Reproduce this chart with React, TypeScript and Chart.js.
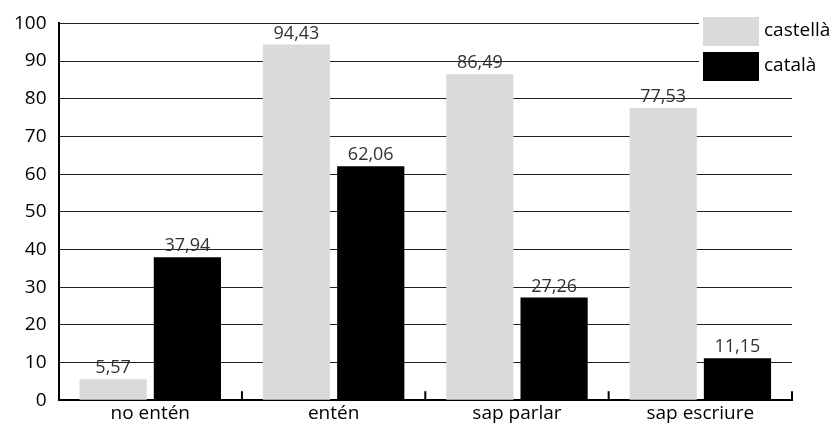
import React, { useEffect, useRef } from "react";
import { Chart, registerables } from "chart.js";

Chart.register(...registerables);

const categories = ["no entén", "entén", "sap parlar", "sap escriure"];
const seriesNames = ["castellà", "català"];
const castellaValues = [5.57, 94.43, 86.49, 77.53];
const catalaValues = [37.94, 62.06, 27.26, 11.15];
const seriesColors = ["#dadada", "#000000"];
const yTicks = [0, 10, 20, 30, 40, 50, 60, 70, 80, 90, 100];

const FONT = "'Open Sans', 'Noto Sans', sans-serif";

const valueLabels = {
  id: "valueLabels",
  afterDatasetsDraw(chart: any) {
    const ctx = chart.ctx;
    ctx.save();
    ctx.font = `18px ${FONT}`;
    ctx.fillStyle = "#333";
    ctx.textAlign = "center";
    ctx.textBaseline = "bottom";
    chart.data.datasets.forEach((ds: any, i: number) => {
      const meta = chart.getDatasetMeta(i);
      meta.data.forEach((el: any, j: number) => {
        const txt = String(ds.data[j].toFixed(2)).replace(".", ",");
        ctx.fillText(txt, el.x, el.y - 2);
      });
    });
    ctx.restore();
  },
};

const innerTicks = {
  id: "innerTicks",
  afterDraw(chart: any) {
    const ctx = chart.ctx;
    const x = chart.scales.x;
    const bottom = chart.chartArea.bottom;
    ctx.save();
    ctx.strokeStyle = "#000";
    ctx.lineWidth = 2;
    for (let i = 0; i < categories.length; i++) {
      const px = x.getPixelForValue(i) + (x.getPixelForValue(1) - x.getPixelForValue(0)) / 2;
      ctx.beginPath();
      ctx.moveTo(px, bottom);
      ctx.lineTo(px, bottom - 9);
      ctx.stroke();
    }
    ctx.restore();
  },
};

const boxLegend = {
  id: "boxLegend",
  afterDraw(chart: any) {
    const ctx = chart.ctx;
    ctx.save();
    ctx.fillStyle = "#fff";
    ctx.fillRect(699, 12, 140, 72);
    seriesNames.forEach((name, i) => {
      const y = 17 + i * 35;
      ctx.fillStyle = seriesColors[i];
      ctx.fillRect(703, y, 56, 29);
      ctx.fillStyle = "#000";
      ctx.font = `19px ${FONT}`;
      ctx.textAlign = "left";
      ctx.textBaseline = "middle";
      ctx.fillText(name, 764, y + 14);
    });
    ctx.restore();
  },
};

export default function App() {
  const ref = useRef<HTMLCanvasElement>(null);
  useEffect(() => {
    document.body.style.margin = "0";
    const chart = new Chart(ref.current!, {
      type: "bar",
      data: {
        labels: categories,
        datasets: [
          { label: seriesNames[0], data: castellaValues, backgroundColor: seriesColors[0] },
          { label: seriesNames[1], data: catalaValues, backgroundColor: seriesColors[1] },
        ],
      },
      options: {
        animation: false,
        responsive: false,
        maintainAspectRatio: false,
        categoryPercentage: 0.81,
        barPercentage: 0.905,
        layout: { padding: { top: 8, right: 41, left: 2, bottom: 1 } },
        plugins: { legend: { display: false }, tooltip: { enabled: false } },
        scales: {
          x: {
            grid: { display: false, drawTicks: false },
            border: { color: "#000", width: 2 },
            ticks: { color: "#000", font: { family: FONT, size: 19 }, padding: 2 },
          },
          y: {
            min: 0,
            max: 100,
            afterBuildTicks: (s: any) => {
              s.ticks = yTicks.map((v) => ({ value: v }));
            },
            grid: { color: "#222", lineWidth: 1, drawTicks: false },
            border: { color: "#000", width: 2 },
            ticks: { color: "#000", font: { family: FONT, size: 19 }, padding: 12 },
          },
        },
      },
      plugins: [valueLabels, innerTicks, boxLegend],
    });
    return () => chart.destroy();
  }, []);
  return <canvas ref={ref} width={833} height={428} style={{ display: "block" }} />;
}
